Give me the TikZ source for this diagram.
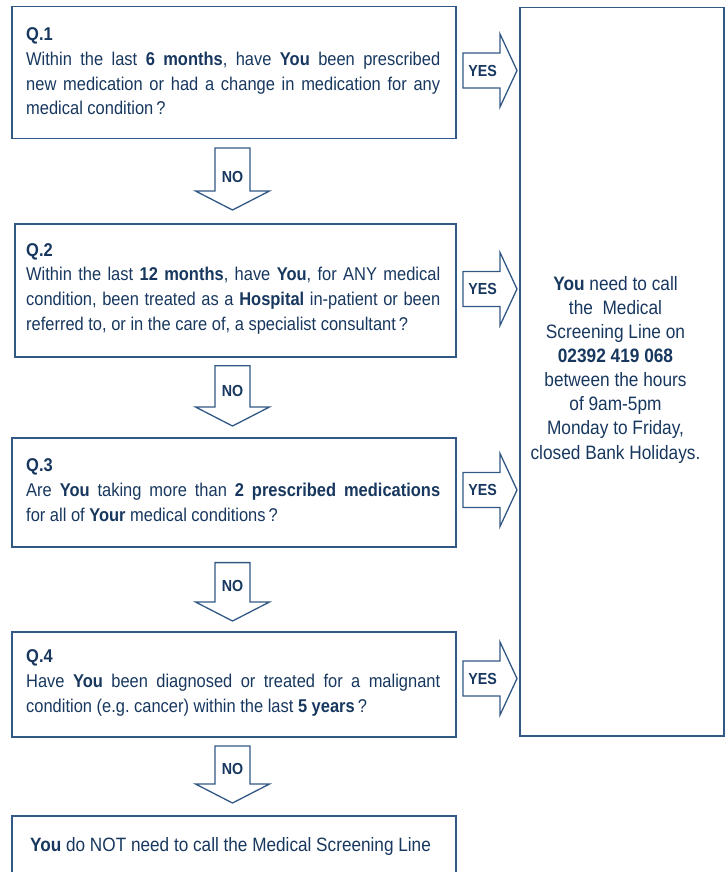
\documentclass[tikz,border=0pt]{standalone}
\usepackage{fontspec}
\setmainfont{Liberation Sans}[FakeStretch=0.89]
\frenchspacing
\hyphenpenalty=10000
\exhyphenpenalty=10000
\definecolor{txt}{RGB}{23,55,94}
\definecolor{bord}{RGB}{50,88,134}
\tikzset{
  box/.style={draw=bord, line width=1.5pt, anchor=north west, inner sep=0pt},
  qtext/.style={anchor=base west, text width=414pt, inner sep=0pt, align=justify,
    text=txt, font=\fontsize{18.5}{24.8}\selectfont},
  lbl/.style={text=txt, inner sep=0pt, font=\bfseries\fontsize{16}{18}\selectfont},
  arr/.style={draw=bord, line width=1.3pt, fill=white, line join=miter},
  pics/yesarrow/.style={code={
    \draw[arr] (0,-17.5) -- (37,-17.5) -- (37,-36.5) -- (54,0) -- (37,36.5)
      -- (37,17.5) -- (0,17.5) -- cycle;
    \node[lbl] (-t) at (19.5,0) {YES};
  }},
  pics/noarrow/.style n args={2}{code={
    \draw[arr] (-17.5,0) -- (17.5,0) -- (17.5,#1) -- (37,#1) -- (0,#1+19)
      -- (-37,#1) -- (-17.5,#1) -- cycle;
    \node[lbl] (-t) at (0,#2) {NO};
  }}
}
\begin{document}
\begin{tikzpicture}[x=1pt,y=-1pt]
\useasboundingbox (0,0) rectangle (726,872);
\clip (0,0) rectangle (726,872);

% question boxes
\node[box, minimum width=444pt, minimum height=131.5pt] (q1) at (11,6) {};
\node[box, minimum width=441pt, minimum height=133pt] (q2) at (14,223) {};
\node[box, minimum width=444pt, minimum height=109pt] (q3) at (11,437) {};
\node[box, minimum width=444pt, minimum height=105pt] (q4) at (11,631) {};
\node[box, minimum width=444pt, minimum height=90pt] (fin) at (11,815) {};
\node[box, minimum width=204pt, minimum height=728pt] (rb) at (519,7) {};

% texts
\node[qtext] (q1t) at (26,40.5) {{\bfseries Q.1}\newline
Within the last {\bfseries 6 months}, have {\bfseries You} been prescribed\linebreak
new medication or had a change in medication for any\linebreak
medical condition\,?};

\node[qtext] (q2t) at (26,256) {{\bfseries Q.2}\newline
Within the last {\bfseries 12 months}, have {\bfseries You}, for ANY medical\linebreak
condition, been treated as a {\bfseries Hospital} in-patient or been\linebreak
referred to, or in the care of, a specialist consultant\,?};

\node[qtext] (q3t) at (26,471.5) {{\bfseries Q.3}\newline
Are {\bfseries You} taking more than {\bfseries 2 prescribed medications}\linebreak
for all of {\bfseries Your} medical conditions\,?};

\node[qtext] (q4t) at (26,662.5) {{\bfseries Q.4}\newline
Have {\bfseries You} been diagnosed or treated for a malignant\linebreak
condition (e.g. cancer) within the last {\bfseries 5 years}\,?};

\node[anchor=base west, inner sep=0pt, text=txt,
  font=\fontsize{19.3}{24}\selectfont] (fint) at (30,851.7)
  {{\bfseries You} do NOT need to call the Medical Screening Line};

\node[anchor=base, align=center, inner sep=0pt, text=txt,
  font=\fontsize{19.4}{24.1}\selectfont] (rbt) at (615.5,459)
  {{\bfseries You} need to call\\ the~ Medical\\ Screening Line on\\
   {\bfseries 02392 419 068}\\ between the hours\\ of 9am-5pm\\
   Monday to Friday,\\ closed Bank Holidays.};

% YES arrows
\pic (y1) at (463,70.5) {yesarrow};
\pic (y2) at (463,289) {yesarrow};
\pic (y3) at (463,490) {yesarrow};
\pic (y4) at (463,678.5) {yesarrow};

% NO arrows
\pic (n1) at (232.5,148) {noarrow={43}{29}};
\pic (n2) at (232.5,365.7) {noarrow={41.3}{25.5}};
\pic (n3) at (232.5,562.6) {noarrow={39.4}{23.8}};
\pic (n4) at (232.5,746) {noarrow={38}{23}};
\end{tikzpicture}
\end{document}
